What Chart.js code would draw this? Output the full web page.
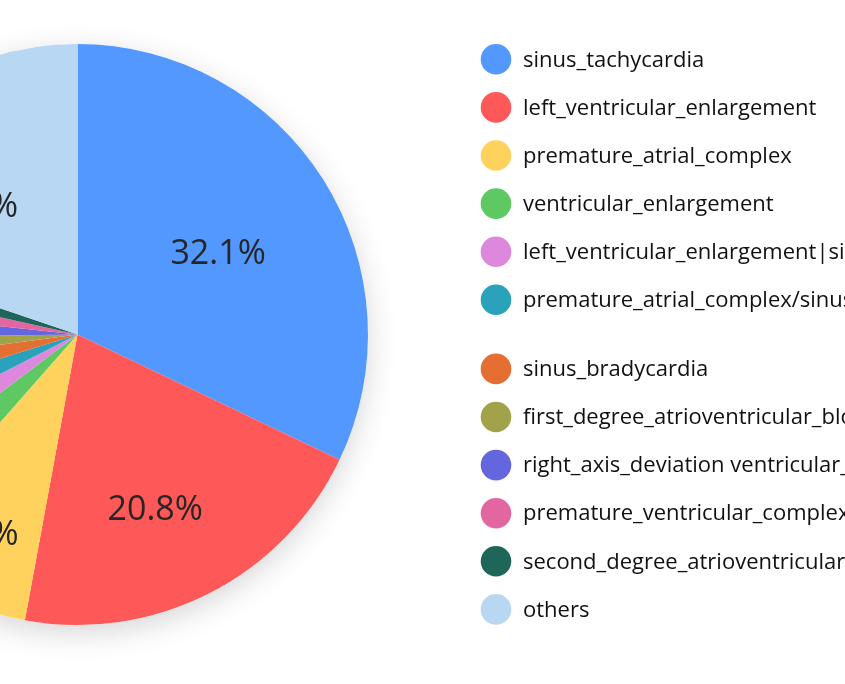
<!DOCTYPE html>
<html>
<head>
<meta charset="utf-8">
<script src="https://cdn.jsdelivr.net/npm/chart.js@4"></script>
<style>
  html, body { margin: 0; padding: 0; background: #ffffff; overflow: hidden; width: 845px; height: 684px; }
  #wrap { position: absolute; left: -213px; top: 0; width: 1058px; height: 684px; }
</style>
</head>
<body>
<div id="wrap"><canvas id="c" width="1058" height="684"></canvas></div>
<script>
// ---- data ----
const categories = [
  "sinus_tachycardia",
  "left_ventricular_enlargement",
  "premature_atrial_complex",
  "ventricular_enlargement",
  "left_ventricular_enlargement|sinus_tachycardia",
  "premature_atrial_complex/sinus_tachycardia",
  "sinus_bradycardia",
  "first_degree_atrioventricular_block",
  "right_axis_deviation ventricular_enlargement",
  "premature_ventricular_complex",
  "second_degree_atrioventricular_block",
  "others"
];
const shares = [32.1, 20.8, 8.6, 3.2, 2.8, 2.7, 2.7, 1.9, 1.9, 1.8, 1.7, 19.8];
const colors = [
  "#5398FF", "#FF5858", "#FFD25E", "#5EC862", "#DD88DD", "#2BA2BB",
  "#E56F33", "#A2A24B", "#6466DD", "#E266A0", "#1E6659", "#B8D7F3"
];

// label placement styling (radial fraction, angle nudge in degrees)
const labelStyle = {
  minShare: 5,
  radial: [0.56, 0.655, 0.76, 0.6, 0.6, 0.6, 0.6, 0.6, 0.6, 0.6, 0.6, 0.577],
  nudge:  [2.0, 2.9, 0.1, 0, 0, 0, 0, 0, 0, 0, 0, -4.1],
  dy: 2
};

const shadowPlugin = {
  id: 'pieShadow',
  beforeDatasetsDraw(chart) {
    const arc = chart.getDatasetMeta(0).data[0];
    if (!arc) return;
    const ctx = chart.ctx;
    ctx.save();
    ctx.shadowColor = 'rgba(0,0,0,0.16)';
    ctx.shadowBlur = 30;
    ctx.shadowOffsetY = 8;
    ctx.fillStyle = '#ffffff';
    ctx.beginPath();
    ctx.arc(arc.x, arc.y, arc.outerRadius, 0, Math.PI * 2);
    ctx.fill();
    ctx.restore();
  }
};

const labelPlugin = {
  id: 'pctLabels',
  afterDatasetsDraw(chart) {
    const ctx = chart.ctx;
    const meta = chart.getDatasetMeta(0);
    const data = chart.data.datasets[0].data;
    const total = data.reduce((a, b) => a + b, 0);
    ctx.save();
    ctx.font = '34px "Open Sans", sans-serif';
    ctx.fillStyle = '#262626';
    ctx.textAlign = 'center';
    ctx.textBaseline = 'middle';
    meta.data.forEach((arc, i) => {
      const pct = data[i] / total * 100;
      if (pct < labelStyle.minShare) return;
      const mid = (arc.startAngle + arc.endAngle) / 2 + labelStyle.nudge[i] * Math.PI / 180;
      const r = arc.outerRadius * labelStyle.radial[i];
      const x = arc.x + Math.cos(mid) * r;
      const y = arc.y + Math.sin(mid) * r + labelStyle.dy;
      ctx.fillText(pct.toFixed(1) + '%', x, y);
    });
    ctx.restore();
  }
};

const legendPlugin = {
  id: 'sideLegend',
  afterDraw(chart) {
    const ctx = chart.ctx;
    const labels = chart.data.labels;
    const bg = chart.data.datasets[0].backgroundColor;
    ctx.save();
    ctx.font = '22px "Open Sans", sans-serif';
    ctx.textAlign = 'left';
    ctx.textBaseline = 'middle';
    labels.forEach((lab, i) => {
      const y = 59.3 + i * 48.1 + (i >= 6 ? 21 : 0);
      ctx.fillStyle = bg[i];
      ctx.beginPath();
      ctx.arc(709, y, 15.3, 0, Math.PI * 2);
      ctx.fill();
      ctx.fillStyle = '#111111';
      ctx.fillText(lab, 736, y + 1);
    });
    ctx.restore();
  }
};

new Chart(document.getElementById('c'), {
  type: 'pie',
  data: {
    labels: categories,
    datasets: [{
      data: shares,
      backgroundColor: colors,
      borderWidth: 0,
      hoverOffset: 0
    }]
  },
  options: {
    responsive: false,
    animation: false,
    devicePixelRatio: 1,
    layout: { padding: { top: 44, bottom: 59, left: 0, right: 477 } },
    plugins: {
      legend: { display: false },
      tooltip: { enabled: false }
    }
  },
  plugins: [shadowPlugin, labelPlugin, legendPlugin]
});
</script>
</body>
</html>
